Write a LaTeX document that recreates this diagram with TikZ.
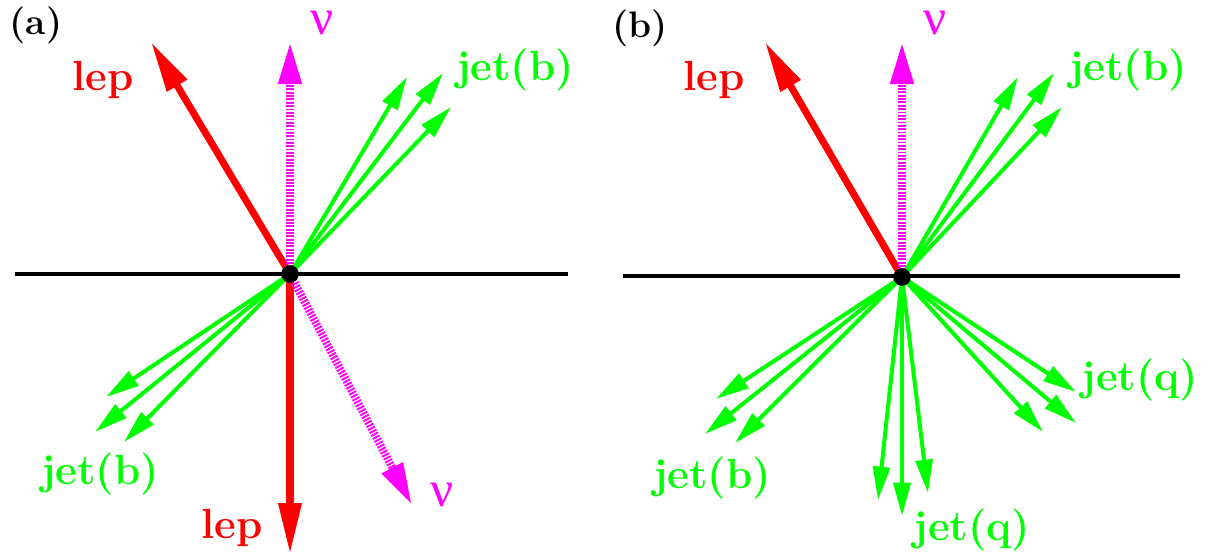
\documentclass[tikz,border=0pt]{standalone}
\usepackage{amsmath}
\usepackage{fontspec}
\newfontfamily\greekfont{Liberation Serif}
\usepackage{xcolor}
\definecolor{lepred}{RGB}{255,0,0}
\definecolor{jetgreen}{RGB}{0,255,0}
\definecolor{numag}{RGB}{255,0,255}
\usetikzlibrary{arrows.meta}
\tikzset{
  axisline/.style={line width=2.3pt,black},
  vertex/.style={circle,fill=black,inner sep=0pt,minimum size=10pt},
  lep/.style={line width=4pt,draw=lepred,%
    -{Triangle[length=29pt,width=12.5pt]}},
  jet/.style={line width=2.3pt,draw=jetgreen,%
    -{Triangle[length=19pt,width=9.6pt]}},
  nu/.style={line width=4.5pt,draw=numag,dash pattern=on 1.1pt off 0.8pt,%
    -{Triangle[length=24pt,width=12.5pt]}},
  lbl/.style={font=\fontsize{24}{27}\selectfont\bfseries,inner sep=0pt},
  nulbl/.style={font=\fontsize{29}{31}\greekfont,text=numag,inner sep=0pt,
    anchor=base},
  panel/.style={font=\fontsize{21}{24}\selectfont\bfseries,inner sep=0pt},
}
\begin{document}
\begin{tikzpicture}[x=0.02cm,y=-0.02cm]
\useasboundingbox (0,0) rectangle (1213,558);
% panel (a)
\node[panel] (pa) at (36,25) {(a)};
\coordinate (A) at (290,274);
\coordinate (axL) at (15,274);
\coordinate (axR) at (568,274);
\coordinate (alepU) at (151,42);
\coordinate (alepD) at (290,554);
\coordinate (anuU) at (290,42);
\coordinate (anuD) at (412,505);
\coordinate (ajb1) at (407,77);
\coordinate (ajb2) at (443,73);
\coordinate (ajb3) at (451,107);
\coordinate (ajb4) at (106,397);
\coordinate (ajb5) at (95,432);
\coordinate (ajb6) at (124,442);
\draw[axisline] (axL) -- (axR);
\draw[lep] (A) -- (alepU);
\draw[lep] (A) -- (alepD);
\foreach \t in {ajb1,ajb2,ajb3,ajb4,ajb5,ajb6}
  \draw[jet] (A) -- (\t);
\draw[nu] (A) -- (anuU);
\draw[nu] (A) -- (anuD);
\node[vertex] (va) at (A) {};
\node[lbl,text=lepred] (alep1) at (103,80) {lep};
\node[lbl,text=lepred] (alep2) at (232,528) {lep};
\node[nulbl] (anu1) at (322,34) {ν};
\node[nulbl] (anu2) at (442,506) {ν};
\node[lbl,text=jetgreen] (ajet1) at (515,70) {jet(b)};
\node[lbl,text=jetgreen] (ajet2) at (100,474) {jet(b)};
% panel (b)
\node[panel] (pb) at (640,28) {(b)};
\coordinate (B) at (902,277);
\coordinate (bxL) at (623,276);
\coordinate (bxR) at (1180,276);
\coordinate (blepU) at (765,42);
\coordinate (bnuU) at (902,42);
\coordinate (bjb1) at (1018,77);
\coordinate (bjb2) at (1054,73);
\coordinate (bjb3) at (1062,107);
\coordinate (bjb4) at (716,399);
\coordinate (bjb5) at (705,434);
\coordinate (bjb6) at (735,443);
\coordinate (bjq1) at (878,500);
\coordinate (bjq2) at (902,516);
\coordinate (bjq3) at (928,493);
\coordinate (bjq4) at (1076,392);
\coordinate (bjq5) at (1076,423);
\coordinate (bjq6) at (1043,432);
\draw[axisline] (bxL) -- (bxR);
\draw[lep] (B) -- (blepU);
\foreach \t in {bjb1,bjb2,bjb3,bjb4,bjb5,bjb6,bjq1,bjq2,bjq3,bjq4,bjq5,bjq6}
  \draw[jet] (B) -- (\t);
\draw[nu] (B) -- (bnuU);
\node[vertex] (vb) at (B) {};
\node[lbl,text=lepred] (blep1) at (714,80) {lep};
\node[nulbl] (bnu1) at (935,34) {ν};
\node[lbl,text=jetgreen] (bjet1) at (1128,70) {jet(b)};
\node[lbl,text=jetgreen] (bjet2) at (712,478) {jet(b)};
\node[lbl,text=jetgreen] (bjet3) at (972,530) {jet(q)};
\node[lbl,text=jetgreen] (bjet4) at (1140,380) {jet(q)};
\end{tikzpicture}
\end{document}
